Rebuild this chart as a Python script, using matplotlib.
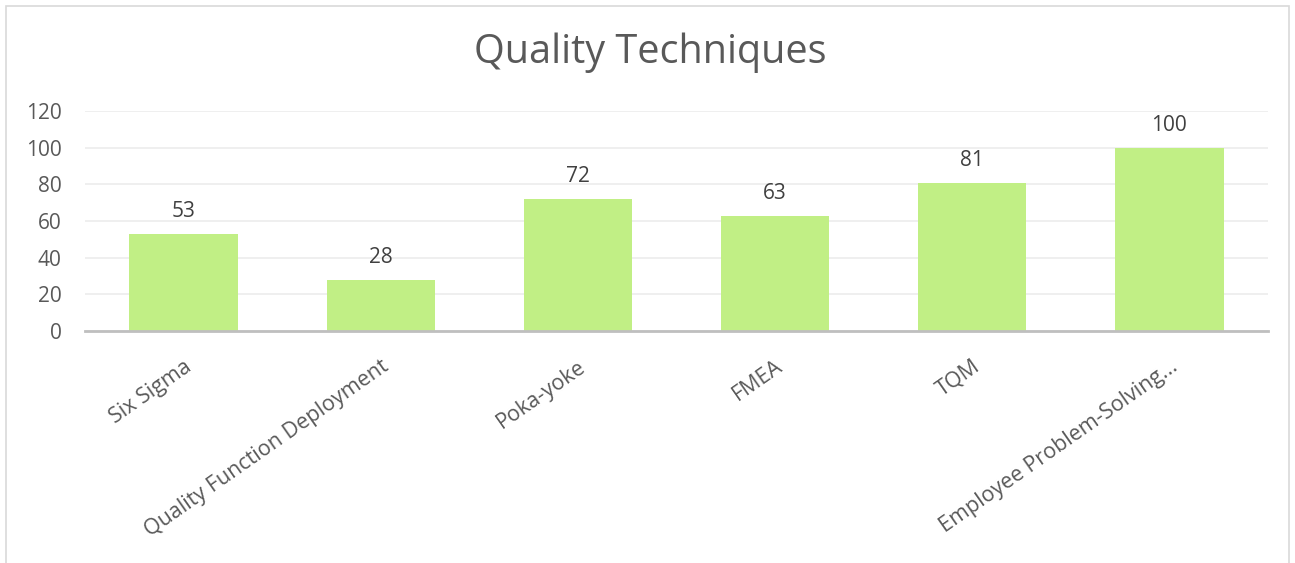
import matplotlib
matplotlib.use("Agg")
import matplotlib.pyplot as plt
from matplotlib.patches import Rectangle

categories = ["Six Sigma", "Quality Function Deployment", "Poka-yoke", "FMEA", "TQM",
              "Employee Problem-Solving..."]
values = [53, 28, 72, 63, 81, 100]
yticks = [0, 20, 40, 60, 80, 100, 120]
title = "Quality Techniques"

plt.rcParams['font.family'] = ['Open Sans', 'DejaVu Sans']

fig = plt.figure(figsize=(12.95, 5.63), dpi=100)
ax = fig.add_axes([85/1295, 1-331/563, (1268-85)/1295, (331-111)/563])

x = list(range(len(categories)))
ax.bar(x, values, width=0.55, color="#c1ef85", zorder=3)
for xi, v in zip(x, values):
    ax.annotate(str(v), (xi, v), xytext=(0, 8.5), textcoords="offset points",
                ha="center", va="bottom", fontsize=15, color="#404040")

ax.set_xlim(-0.5, len(categories) - 0.5)
ax.set_ylim(0, 120)
ax.set_yticks(yticks)
ax.set_yticklabels([str(t) for t in yticks], fontsize=15, color="#595959")
ax.yaxis.grid(True, color="#ececec", linewidth=1.2, zorder=0)
ax.set_xticks(x)
ax.set_xticklabels(categories, rotation=35, ha="right", rotation_mode="anchor",
                   fontsize=15.5, color="#595959")
ax.tick_params(axis="both", length=0)
ax.tick_params(axis="y", pad=17)
ax.tick_params(axis="x", pad=18)
for s in ["top", "right", "left"]:
    ax.spines[s].set_visible(False)
ax.spines["bottom"].set_color("#bfbfbf")
ax.spines["bottom"].set_linewidth(2)
ax.spines["bottom"].set_zorder(4)

fig.text(0.502, 1-53/563, title, ha="center", va="center", fontsize=28.5, color="#595959")

fig.patches.append(Rectangle((6/1295, -0.01), 1283/1295, 1.0-6/563+0.01,
                             transform=fig.transFigure, fill=False,
                             edgecolor="#d9d9d9", linewidth=1.2))

fig.savefig("out.png", dpi=100)
